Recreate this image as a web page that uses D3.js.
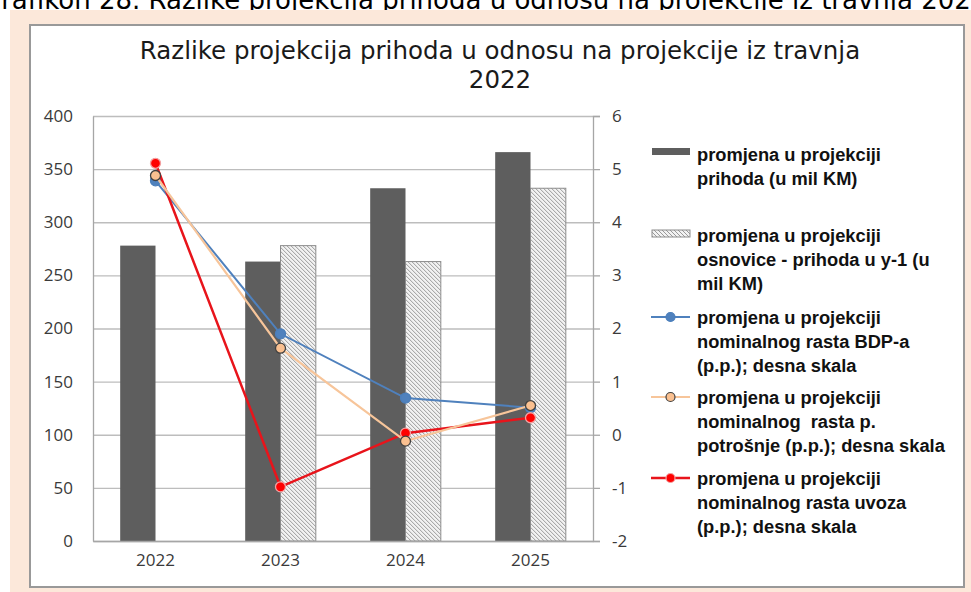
<!DOCTYPE html>
<html>
<head>
<meta charset="utf-8">
<script src="https://cdn.jsdelivr.net/npm/d3@7"></script>
<style>
  body { margin: 0; background: #fff; }
  svg { display: block; }
</style>
</head>
<body>
<div id="chart-area"></div>
<script>
// data
var years = ["2022", "2023", "2024", "2025"];
var prihodi = [278, 263, 332, 366];          // promjena u projekciji prihoda
var osnovica = [null, 278, 263, 332];        // promjena osnovice - prihod u y-1
var bdp = [4.78, 1.90, 0.69, 0.51];
var potrosnja = [4.88, 1.63, -0.12, 0.55];
var uvoz = [5.11, -0.98, 0.03, 0.32];
var leftTicks = [0, 50, 100, 150, 200, 250, 300, 350, 400];
var rightTicks = [-2, -1, 0, 1, 2, 3, 4, 5, 6];

var legendNames = [
  ["promjena u projekciji", "prihoda (u mil KM)"],
  ["promjena u projekciji", "osnovice - prihoda u y-1 (u", "mil KM)"],
  ["promjena u projekciji", "nominalnog rasta BDP-a", "(p.p.); desna skala"],
  ["promjena u projekciji", "nominalnog  rasta p.", "potrošnje (p.p.); desna skala"],
  ["promjena u projekciji", "nominalnog rasta uvoza", "(p.p.); desna skala"]
];

var W = 971, H = 592;
var margin = { left: 93, right: 378, top: 116, bottom: 51 };
var width = W - margin.left - margin.right;   // 500
var height = H - margin.top - margin.bottom;  // 425

var svg = d3.select("#chart-area")
  .append("svg")
    .attr("width", W)
    .attr("height", H);

// hatch pattern for the base bars
var defs = svg.append("defs");
var pat = defs.append("pattern")
  .attr("id", "hatch")
  .attr("patternUnits", "userSpaceOnUse")
  .attr("width", 4)
  .attr("height", 4);
pat.append("rect").attr("width", 4).attr("height", 4).attr("fill", "#f2f2f2");
pat.append("path")
  .attr("d", "M0,0 L4,4 M-1,3 L1,5 M3,-1 L5,1")
  .attr("stroke", "#8f8f8f")
  .attr("stroke-width", 0.9);

// caption of the page (cut off at the top, as in the source)
svg.append("text")
  .attr("x", -19)
  .attr("y", 9)
  .attr("font-family", "DejaVu Sans")
  .attr("font-size", "26px")
  .attr("fill", "#000")
  .text("Grafikon 28. Razlike projekcija prihoda u odnosu na projekcije iz travnja 2022.");

svg.append("rect")
  .attr("x", 10).attr("y", 10)
  .attr("width", W - 10).attr("height", H - 10)
  .attr("fill", "#fce8da");

svg.append("rect")
  .attr("x", 30).attr("y", 25)
  .attr("width", 934).attr("height", 562)
  .attr("fill", "#fff")
  .attr("stroke", "#999")
  .attr("stroke-width", 2);

// title
var title = svg.append("text")
  .attr("text-anchor", "middle")
  .attr("font-family", "DejaVu Sans")
  .attr("font-size", "24.5px")
  .attr("fill", "#1a1a1a");
title.append("tspan").attr("x", 500).attr("y", 59).text("Razlike projekcija prihoda u odnosu na projekcije iz travnja");
title.append("tspan").attr("x", 500).attr("y", 88).text("2022");

var g = svg.append("g")
  .attr("transform", "translate(" + margin.left + "," + margin.top + ")");

// scales
var x0 = d3.scaleBand()
  .domain(years)
  .range([0, width])
  .paddingInner(0.435)
  .paddingOuter(0.2175);

var x1 = d3.scaleBand()
  .domain(["prihodi", "osnovica"])
  .range([0, x0.bandwidth()]);

var yL = d3.scaleLinear().domain([0, 400]).range([height, 0]);
var yR = d3.scaleLinear().domain([-2, 6]).range([height, 0]);

var tickFont = function(s) {
  s.selectAll("text")
    .attr("font-family", "Open Sans")
    .attr("font-size", "17px")
    .attr("fill", "#3a3a3a");
};

// gridlines
g.append("g")
  .attr("class", "grid")
  .call(d3.axisLeft(yL).tickValues(leftTicks).tickSize(-width).tickFormat(""))
  .call(function(s) {
    s.select(".domain").remove();
    s.selectAll("line").attr("stroke", "#bdbdbd").attr("stroke-width", 1.3);
  });

// left axis labels
g.append("g")
  .attr("class", "y-axis")
  .call(d3.axisLeft(yL).tickValues(leftTicks).tickSize(0).tickPadding(20))
  .call(function(s) {
    s.select(".domain").attr("stroke", "#a6a6a6").attr("stroke-width", 1.3);
  })
  .call(tickFont);

// right axis (hyphen for negatives, like the source)
g.append("g")
  .attr("class", "y-axis-right")
  .attr("transform", "translate(" + width + ",0)")
  .call(d3.axisRight(yR).tickValues(rightTicks).tickSize(7).tickPadding(12)
    .tickFormat(function(d) { return String(d); }))
  .call(function(s) {
    s.select(".domain").attr("stroke", "#a6a6a6").attr("stroke-width", 1.3);
    s.selectAll("line").attr("stroke", "#a6a6a6").attr("stroke-width", 1.3);
  })
  .call(tickFont);

// bars
var groups = g.selectAll(".year")
  .data(years)
  .enter().append("g")
    .attr("class", "year")
    .attr("transform", function(d) { return "translate(" + x0(d) + ",0)"; });

groups.append("rect")
  .attr("x", x1("prihodi"))
  .attr("y", function(d, i) { return yL(prihodi[i]); })
  .attr("width", x1.bandwidth())
  .attr("height", function(d, i) { return height - yL(prihodi[i]); })
  .attr("fill", "#5e5e5e");

groups.filter(function(d, i) { return osnovica[i] != null; })
  .append("rect")
  .attr("x", x1("osnovica"))
  .attr("y", function(d) { return yL(osnovica[years.indexOf(d)]); })
  .attr("width", x1.bandwidth())
  .attr("height", function(d) { return height - yL(osnovica[years.indexOf(d)]); })
  .attr("fill", "url(#hatch)")
  .attr("stroke", "#8c8c8c")
  .attr("stroke-width", 1);

// bottom axis
g.append("g")
  .attr("class", "x-axis")
  .attr("transform", "translate(0," + height + ")")
  .call(d3.axisBottom(x0).tickSize(0).tickPadding(13))
  .call(function(s) {
    s.select(".domain").attr("stroke", "#a6a6a6").attr("stroke-width", 1.5);
  })
  .call(tickFont);

// lines on right scale
var series = [
  { values: bdp, line: "#4f81bd", fill: "#4f81bd", stroke: "#4a7ebb", width: 2, r: 5 },
  { values: uvoz, line: "#e8141b", fill: "#ff0000", stroke: "#f3a0a0", width: 2.5, r: 5 },
  { values: potrosnja, line: "#f7c59a", fill: "#fac090", stroke: "#404040", width: 2.2, r: 5 }
];

var line = d3.line()
  .x(function(d, i) { return x0(years[i]) + x0.bandwidth() / 2; })
  .y(function(d) { return yR(d); });

series.forEach(function(s) {
  g.append("path")
    .datum(s.values)
    .attr("fill", "none")
    .attr("stroke", s.line)
    .attr("stroke-width", s.width)
    .attr("d", line);

  g.selectAll(null)
    .data(s.values)
    .enter().append("circle")
      .attr("cx", function(d, i) { return x0(years[i]) + x0.bandwidth() / 2; })
      .attr("cy", function(d) { return yR(d); })
      .attr("r", s.r)
      .attr("fill", s.fill)
      .attr("stroke", s.stroke)
      .attr("stroke-width", 1.3);
});

// legend
var legendY = [155, 236, 318, 398, 479];
var lineStep = 24;
var legend = svg.append("g").attr("class", "legend");

legendNames.forEach(function(lines, k) {
  var y = legendY[k];
  var t = legend.append("text")
    .attr("font-family", "Liberation Sans")
    .attr("font-weight", "bold")
    .attr("font-size", "18.3px")
    .attr("fill", "#111");
  lines.forEach(function(l, j) {
    t.append("tspan")
      .attr("x", 697)
      .attr("y", y + 6 + j * lineStep)
      .attr("xml:space", "preserve")
      .text(l);
  });

  if (k == 0) {
    legend.append("rect")
      .attr("x", 652).attr("y", y - 7)
      .attr("width", 38).attr("height", 7)
      .attr("fill", "#5e5e5e");
  } else if (k == 1) {
    legend.append("rect")
      .attr("x", 652).attr("y", y - 6)
      .attr("width", 38).attr("height", 7)
      .attr("fill", "url(#hatch)")
      .attr("stroke", "#8c8c8c");
  } else {
    var s = [series[0], series[2], series[1]][k - 2];
    legend.append("line")
      .attr("x1", 651).attr("x2", 690)
      .attr("y1", y - 1).attr("y2", y - 1)
      .attr("stroke", s.line)
      .attr("stroke-width", s.width);
    legend.append("circle")
      .attr("cx", 670.5).attr("cy", y - 1)
      .attr("r", 4.5)
      .attr("fill", s.fill)
      .attr("stroke", s.stroke)
      .attr("stroke-width", 1.2);
  }
});
</script>
</body>
</html>
